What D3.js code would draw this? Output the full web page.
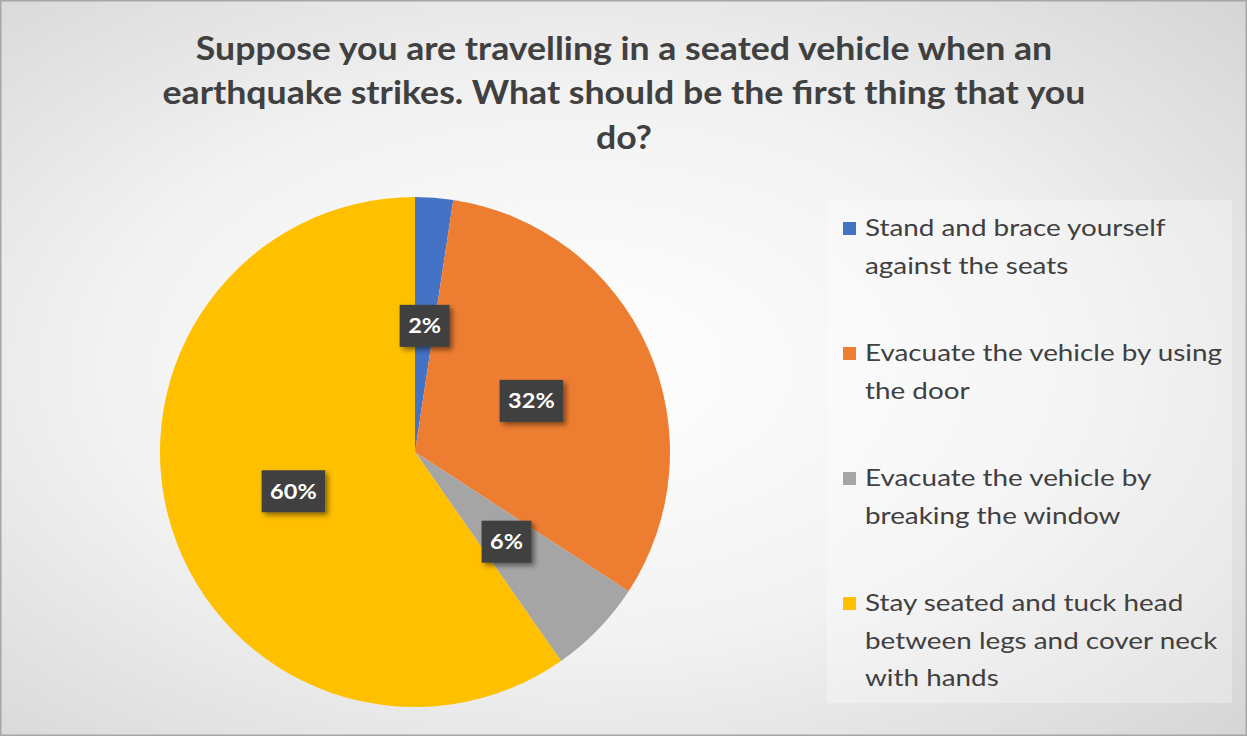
<!DOCTYPE html>
<html><head><meta charset="utf-8">
<script src="https://cdn.jsdelivr.net/npm/d3@7/dist/d3.min.js"></script>
<style>html,body{margin:0;padding:0;background:#fff;}svg{display:block;}</style>
</head><body>
<svg id="chart" width="1247" height="736"></svg>
<script>
const titleLines = ["Suppose you are travelling in a seated vehicle when an", "earthquake strikes. What should be the first thing that you", "do?"];
const categories = ["Stand and brace yourself against the seats", "Evacuate the vehicle by using the door", "Evacuate the vehicle by breaking the window", "Stay seated and tuck head between legs and cover neck with hands"];
const legendLines = [["Stand and brace yourself", "against the seats"], ["Evacuate the vehicle by using", "the door"], ["Evacuate the vehicle by", "breaking the window"], ["Stay seated and tuck head", "between legs and cover neck", "with hands"]];
const values = [2.4, 31.8, 6.1, 59.7];
const colors = ["#4472C4", "#ED7D31", "#A5A5A5", "#FFC000"];

const W = 1247, H = 736;
const svg = d3.select("#chart");
const defs = svg.append("defs");
const rg = defs.append("radialGradient").attr("id", "bg").attr("cx", "0.46").attr("cy", "0.5").attr("r", "0.75");
rg.append("stop").attr("offset", "0").attr("stop-color", "#ffffff");
rg.append("stop").attr("offset", "0.5").attr("stop-color", "#f2f2f2");
rg.append("stop").attr("offset", "1").attr("stop-color", "#d4d4d4");
const sh = defs.append("filter").attr("id", "shadow").attr("x", "-30%").attr("y", "-30%").attr("width", "170%").attr("height", "170%");
sh.append("feDropShadow").attr("dx", 3).attr("dy", 3).attr("stdDeviation", 2.5).attr("flood-color", "#000").attr("flood-opacity", 0.45);

svg.append("rect").attr("x", 0.5).attr("y", 0.5).attr("width", W - 1).attr("height", H - 1)
  .attr("fill", "url(#bg)").attr("stroke", "#a6a6a6").attr("stroke-width", 2);

// Title
const tSX = 1.115;
svg.append("g").attr("transform", `translate(624,0) scale(${tSX},1)`)
  .selectAll("text").data(titleLines).join("text")
  .attr("x", 0).attr("y", (d, i) => 60 + i * 44.5)
  .attr("text-anchor", "middle")
  .attr("font-family", "Lato, 'Open Sans', sans-serif").attr("font-weight", 700)
  .attr("font-size", 32).attr("fill", "#404040")
  .text(d => d);

// Pie
const cx = 415, cy = 452, R = 255;
const pie = d3.pie().sort(null).value(d => d);
const arcs = pie(values);
const arc = d3.arc().innerRadius(0).outerRadius(R);
const g = svg.append("g").attr("transform", `translate(${cx},${cy})`);
g.selectAll("path").data(arcs).join("path")
  .attr("d", arc).attr("fill", (d, i) => colors[i]);

const fmt = v => Math.round(v) + "%";
const lSX = 1.12;
const lab = g.selectAll("g.lab").data(arcs).join("g").attr("class", "lab")
  .attr("transform", d => { const c = arc.centroid(d); return `translate(${c[0]},${c[1] + 1})`; });
const labRect = lab.append("rect").attr("fill", "#404040").attr("filter", "url(#shadow)");
const labText = lab.append("text")
  .attr("transform", `scale(${lSX},1)`)
  .attr("text-anchor", "middle").attr("dy", "0.36em")
  .attr("font-family", "Lato, 'Open Sans', sans-serif").attr("font-weight", 700)
  .attr("font-size", 21).attr("fill", "#ffffff")
  .text(d => fmt(d.data));
labText.each(function(d) { d.tw = this.getComputedTextLength() * lSX; });
labRect.attr("x", d => -(d.tw + 17) / 2).attr("y", -21)
  .attr("width", d => d.tw + 17).attr("height", 42);

// Legend
svg.append("rect").attr("x", 827).attr("y", 200).attr("width", 405).attr("height", 503)
  .attr("fill", "#ffffff").attr("opacity", 0.3);
const groupY = [228, 353, 478, 603];
const legSX = 1.16;
const lg = svg.append("g").selectAll("g").data(categories).join("g")
  .attr("transform", (d, i) => `translate(843,${groupY[i]})`);
lg.append("rect").attr("x", 0).attr("y", -6).attr("width", 13).attr("height", 13)
  .attr("fill", (d, i) => colors[i]);
lg.each(function(d, i) {
  d3.select(this).append("g").attr("transform", `translate(22,0) scale(${legSX},1)`)
    .selectAll("text").data(legendLines[i]).join("text")
    .attr("x", 0).attr("y", (t, j) => j * 37.5).attr("dy", "0.35em")
    .attr("font-family", "Lato, 'Open Sans', sans-serif").attr("font-size", 24)
    .attr("fill", "#404040").text(t => t);
});
</script>
</body></html>
